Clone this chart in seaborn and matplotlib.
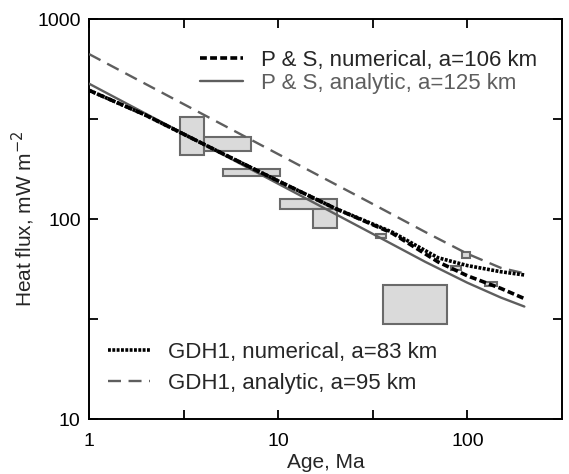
import numpy as np
import pandas as pd
import matplotlib
matplotlib.use("Agg")
import matplotlib.pyplot as plt
from matplotlib.patches import Rectangle
from matplotlib.ticker import FixedLocator, NullFormatter, FixedFormatter
import seaborn as sns

# ---- data ----
# GDH1, analytic (gray dashed)
gdh_an_age = [1, 10, 30, 60, 100, 150, 200]
gdh_an_q = [668, 211, 122, 86, 67, 57, 53.5]
# GDH1, numerical (black dotted)
gdh_num_age = [1, 2, 5, 10, 20, 40, 70, 100, 150, 200]
gdh_num_q = [440, 330, 214, 155, 113, 86, 64, 58.5, 54.5, 52.5]
# P & S, numerical (black dashed)
ps_num_age = [1, 2, 5, 10, 20, 40, 70, 100, 150, 200]
ps_num_q = [440, 330, 214, 155, 113, 85, 61, 52, 45, 40]
# P & S, analytic (gray solid)
ps_an_age = [1, 10, 30, 60, 100, 150, 200]
ps_an_q = [475, 150, 86.5, 61, 48, 40.5, 36.5]

# observed heat-flow bins: age range, flux range
box_age_lo = [3.04, 4.04, 5.09, 10.2, 15.3, 33.0, 82.0, 35.8, 93.3, 124.0]
box_age_hi = [4.04, 7.15, 10.2, 20.5, 20.5, 37.0, 93.0, 77.8, 103.3, 144.0]
box_q_lo = [209, 219, 165, 112, 90.5, 80, 55.5, 30.0, 64.0, 46.4]
box_q_hi = [325, 258, 178, 126, 112, 84, 58, 47.0, 68.0, 48.6]

xticks_major = [1, 10, 100]
xticks_minor = [3.16, 31.6]
yticks_major = [10, 100, 1000]
yticks_minor = [31.6, 316]

sns.set_style("ticks")
plt.rcParams['font.family'] = ['Liberation Sans', 'DejaVu Sans']
FS_TICK = 14
FS_LAB = 15
FS_LEG = 16

fig = plt.figure(figsize=(5.69, 4.74), dpi=100)
ax = fig.add_axes([89 / 569, 55 / 474, 473 / 569, 400 / 474])
ax.set_xscale('log')
ax.set_yscale('log')

for lo, hi, ql, qh in zip(box_age_lo, box_age_hi, box_q_lo, box_q_hi):
    ax.add_patch(Rectangle((lo, ql), hi - lo, qh - ql, facecolor='#dadada',
                           edgecolor='#6a6a6a', linewidth=1.5, zorder=1))

sns.lineplot(x=ps_num_age, y=ps_num_q, ax=ax, color='black', lw=2.6,
             linestyle=(0, (1.9, 0.9)), zorder=4)
ax.lines[-1].set_label('P & S, numerical, a=106 km')
sns.lineplot(x=ps_an_age, y=ps_an_q, ax=ax, color='#5e5e5e', lw=1.7, zorder=3)
ax.lines[-1].set_label('P & S, analytic, a=125 km')
sns.lineplot(x=gdh_num_age, y=gdh_num_q, ax=ax, color='black', lw=2.6,
             linestyle=(0, (0.8, 0.4)), zorder=5)
ax.lines[-1].set_label('GDH1, numerical, a=83 km')
sns.lineplot(x=gdh_an_age, y=gdh_an_q, ax=ax, color='#5e5e5e', lw=1.7,
             linestyle=(0, (5.5, 3.2)), zorder=3)
ax.lines[-1].set_label('GDH1, analytic, a=95 km')

ax.set_xlim(1, 10 ** 2.5)
ax.set_ylim(10, 1000)

ax.xaxis.set_major_locator(FixedLocator(xticks_major))
ax.xaxis.set_major_formatter(FixedFormatter([str(v) for v in xticks_major]))
ax.xaxis.set_minor_locator(FixedLocator(xticks_minor))
ax.xaxis.set_minor_formatter(NullFormatter())
ax.yaxis.set_major_locator(FixedLocator(yticks_major))
ax.yaxis.set_major_formatter(FixedFormatter([str(v) for v in yticks_major]))
ax.yaxis.set_minor_locator(FixedLocator(yticks_minor))
ax.yaxis.set_minor_formatter(NullFormatter())
ax.tick_params(which='both', direction='in', top=True, right=True,
               length=6.5, width=1.3, labelsize=FS_TICK, colors='black')
ax.tick_params(axis='x', which='both', pad=10)
ax.tick_params(axis='y', which='both', pad=6)
for s in ax.spines.values():
    s.set_linewidth(1.4)
    s.set_color('black')

ax.set_xlabel('Age, Ma', fontsize=FS_LAB, labelpad=2)
ax.set_ylabel('Heat flux, mW m$^{-2}$', fontsize=FS_LAB, labelpad=0)

h = ax.lines
leg1 = ax.legend([h[0], h[1]], [h[0].get_label(), h[1].get_label()],
                 loc='upper left', bbox_to_anchor=(0.235, 0.922), frameon=False,
                 fontsize=FS_LEG, handlelength=1.95, handletextpad=0.77,
                 labelspacing=0.08, borderpad=0, borderaxespad=0)
leg1.get_texts()[1].set_color('#5e5e5e')
ax.add_artist(leg1)
leg2 = ax.legend([h[2], h[3]], [h[2].get_label(), h[3].get_label()],
                 loc='upper left', bbox_to_anchor=(0.04, 0.192), frameon=False,
                 fontsize=FS_LEG, handlelength=1.9, handletextpad=0.8,
                 labelspacing=0.45, borderpad=0, borderaxespad=0)

fig.savefig('out.png', dpi=100)
